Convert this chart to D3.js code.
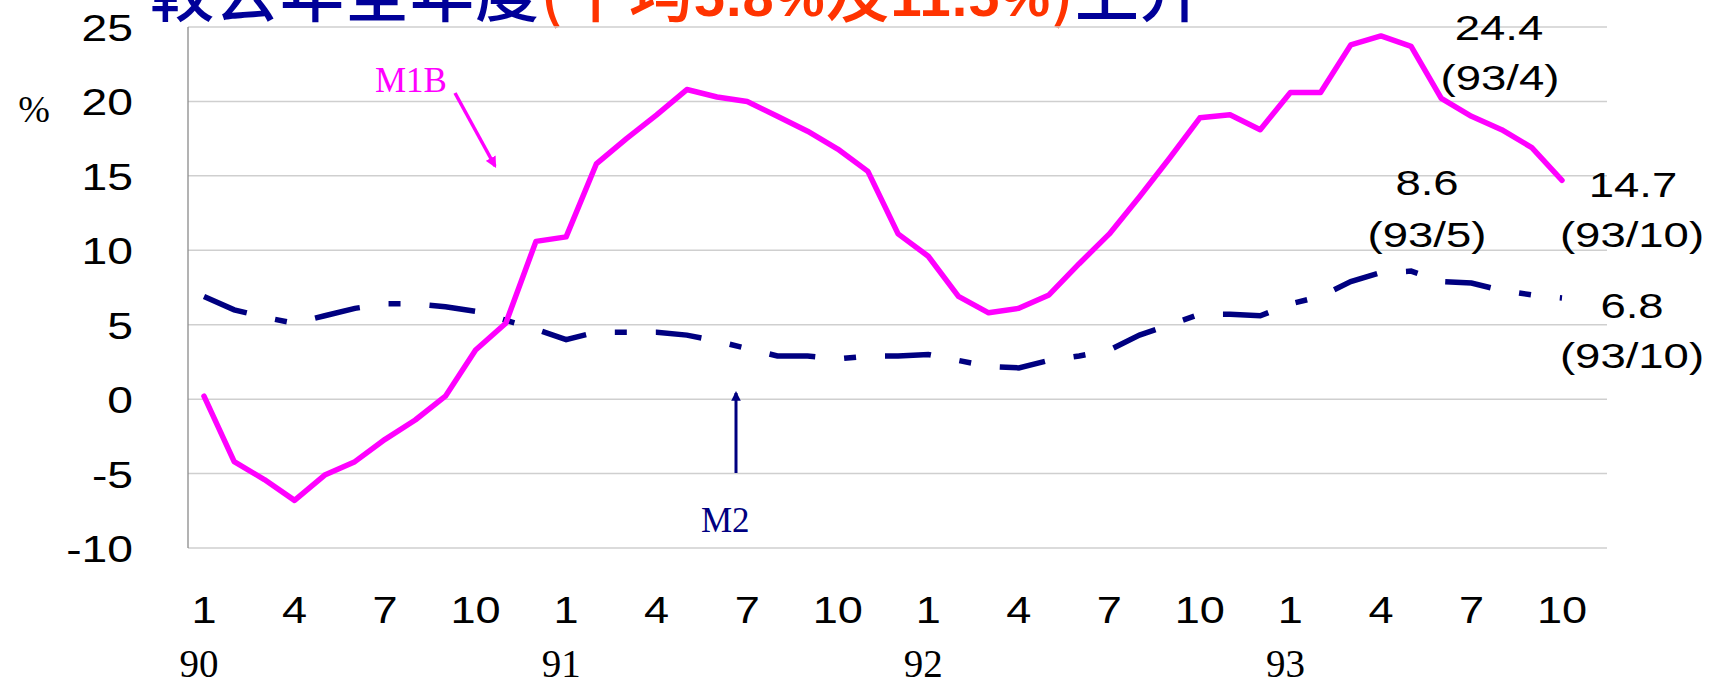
<!DOCTYPE html>
<html>
<head>
<meta charset="utf-8">
<script src="https://cdn.jsdelivr.net/npm/d3@7"></script>
<style>
  body { margin: 0; background: #fff; }
  svg { display: block; }
</style>
</head>
<body>
<svg width="1718" height="680"></svg>
<script>
// months (year/month), 90/1 .. 93/10
var periods = [
  "90/1","90/2","90/3","90/4","90/5","90/6","90/7","90/8","90/9","90/10","90/11","90/12",
  "91/1","91/2","91/3","91/4","91/5","91/6","91/7","91/8","91/9","91/10","91/11","91/12",
  "92/1","92/2","92/3","92/4","92/5","92/6","92/7","92/8","92/9","92/10","92/11","92/12",
  "93/1","93/2","93/3","93/4","93/5","93/6","93/7","93/8","93/9","93/10"
];
// annual growth rates, %
var m1b = [
  0.2, -4.2, -5.4, -6.8, -5.1, -4.2, -2.7, -1.4, 0.2, 3.3, 5.1, 10.6,
  10.9, 15.8, 17.5, 19.1, 20.8, 20.3, 20.0, 19.0, 18.0, 16.8, 15.3, 11.1,
  9.6, 6.9, 5.8, 6.1, 7.0, 9.1, 11.1, 13.6, 16.2, 18.9, 19.1, 18.1,
  20.6, 20.6, 23.8, 24.4, 23.7, 20.2, 19.0, 18.1, 16.9, 14.7
];
var m2 = [
  6.9, 6.0, 5.5, 5.1, 5.6, 6.1, 6.4, 6.4, 6.2, 5.9, 5.3, 4.7,
  4.0, 4.5, 4.5, 4.5, 4.3, 3.9, 3.4, 2.9, 2.9, 2.7, 2.9, 2.9,
  3.0, 2.6, 2.2, 2.1, 2.6, 2.9, 3.3, 4.3, 5.0, 5.7, 5.7, 5.6,
  6.4, 6.9, 7.9, 8.5, 8.6, 7.9, 7.8, 7.3, 7.0, 6.8
];
var yTicks = [25, 20, 15, 10, 5, 0, -5, -10];
var monthTicks = ["1", "4", "7", "10"];
var yearTicks = ["90", "91", "92", "93"];

var svg = d3.select("svg");
var sans = "Arial, 'Liberation Sans', sans-serif";
var serif = "'Times New Roman', 'Liberation Serif', serif";

// scales
var x = d3.scaleLinear().domain([0, periods.length - 1]).range([204, 1562]);
var y = d3.scaleLinear().domain([-10, 25]).range([548, 27]);
var left = 188, right = 1607;

// title (only its lower part is inside the picture)
var title = svg.append("text")
  .attr("x", 150).attr("y", 16)
  .style("font-family", "'Noto Sans CJK TC', sans-serif")
  .style("font-weight", "500")
  .style("font-size", "64px")
  .style("letter-spacing", "1px");
title.append("tspan").attr("fill", "#000099").text("較去年全年度");
title.append("tspan").attr("fill", "#ff3300").text("(平均");
title.append("tspan").attr("fill", "#ff3300").style("font-family", sans).style("font-weight", "bold").style("font-size", "56px").text("5.8%");
title.append("tspan").attr("fill", "#ff3300").text("及");
title.append("tspan").attr("fill", "#ff3300").style("font-family", sans).style("font-weight", "bold").style("font-size", "56px").text("11.5%");
title.append("tspan").attr("fill", "#ff3300").text(")");
title.append("tspan").attr("fill", "#000099").text("上升");

// grid
svg.append("g").selectAll("line")
  .data(yTicks)
  .enter().append("line")
    .attr("x1", left).attr("x2", right)
    .attr("y1", function(d) { return y(d); })
    .attr("y2", function(d) { return y(d); })
    .attr("stroke", "#cfcfcf")
    .attr("stroke-width", 1.5);

// y axis line
svg.append("line")
  .attr("x1", left).attr("x2", left)
  .attr("y1", y(25)).attr("y2", y(-10))
  .attr("stroke", "#8a8a8a")
  .attr("stroke-width", 1.3);

// y tick labels
svg.append("g").selectAll("text")
  .data(yTicks)
  .enter().append("text")
    .attr("transform", function(d) { return "translate(133," + (y(d) + 14) + ") scale(1.25,1)"; })
    .attr("text-anchor", "end")
    .style("font-family", sans)
    .style("font-size", "37px")
    .text(function(d) { return d; });

svg.append("text")
  .attr("x", 34).attr("y", 122)
  .attr("text-anchor", "middle")
  .style("font-family", serif)
  .style("font-size", "38px")
  .text("%");

// x labels: month and year
var monthIdx = [], yearIdx = [];
periods.forEach(function(p, i) {
  var mo = p.split("/")[1];
  if (monthTicks.indexOf(mo) >= 0) monthIdx.push(i);
  if (mo === "1") yearIdx.push(i);
});
svg.append("g").selectAll("text")
  .data(monthIdx)
  .enter().append("text")
    .attr("transform", function(i) { return "translate(" + x(i) + ",623) scale(1.22,1)"; })
    .attr("text-anchor", "middle")
    .style("font-family", sans)
    .style("font-size", "37px")
    .text(function(i) { return periods[i].split("/")[1]; });

svg.append("g").selectAll("text")
  .data(yearIdx)
  .enter().append("text")
    .attr("x", function(i) { return x(i) - 5; })
    .attr("y", 677)
    .attr("text-anchor", "middle")
    .style("font-family", serif)
    .style("font-size", "39px")
    .text(function(i, k) { return yearTicks[k]; });

// lines
var line = d3.line()
  .x(function(d, i) { return x(i); })
  .y(function(d) { return y(d); });

svg.append("path")
  .datum(m2)
  .attr("fill", "none")
  .attr("stroke", "#000080")
  .attr("stroke-width", 5.5)
  .attr("stroke-dasharray", "46,29,12,29")
  .attr("d", line);

svg.append("path")
  .datum(m1b)
  .attr("fill", "none")
  .attr("stroke", "#ff00ff")
  .attr("stroke-width", 5.5)
  .attr("stroke-linejoin", "round")
  .attr("stroke-linecap", "round")
  .attr("d", line);

// arrow markers
var defs = svg.append("defs");
[["pinkHead", "#ff00ff"], ["navyHead", "#000080"]].forEach(function(m) {
  defs.append("marker")
    .attr("id", m[0])
    .attr("viewBox", "0 0 10 10")
    .attr("refX", 8).attr("refY", 5)
    .attr("markerWidth", 3.2).attr("markerHeight", 3.2)
    .attr("orient", "auto")
    .append("path")
      .attr("d", "M0,0 L10,5 L0,10 z")
      .attr("fill", m[1]);
});

// series notes
svg.append("text")
  .attr("x", 375).attr("y", 92)
  .attr("fill", "#ff00ff")
  .style("font-family", serif)
  .style("font-size", "35px")
  .text("M1B");
svg.append("line")
  .attr("x1", 455).attr("y1", 93)
  .attr("x2", 495).attr("y2", 166)
  .attr("stroke", "#ff00ff")
  .attr("stroke-width", 3.5)
  .attr("marker-end", "url(#pinkHead)");

svg.append("text")
  .attr("x", 701).attr("y", 532)
  .attr("fill", "#000080")
  .style("font-family", serif)
  .style("font-size", "35px")
  .text("M2");
svg.append("line")
  .attr("x1", 736).attr("y1", 473)
  .attr("x2", 736).attr("y2", 393)
  .attr("stroke", "#000080")
  .attr("stroke-width", 3)
  .attr("marker-end", "url(#navyHead)");

// value notes
var notes = [
  ["24.4", 1499, 40], ["(93/4)", 1500, 90],
  ["8.6", 1427, 195], ["(93/5)", 1427, 247],
  ["14.7", 1633, 197], ["(93/10)", 1632, 247],
  ["6.8", 1632, 318], ["(93/10)", 1632, 368]
];
svg.append("g").selectAll("text")
  .data(notes)
  .enter().append("text")
    .attr("transform", function(d) { return "translate(" + d[1] + "," + d[2] + ") scale(1.3,1)"; })
    .attr("text-anchor", "middle")
    .style("font-family", sans)
    .style("font-size", "35px")
    .text(function(d) { return d[0]; });
</script>
</body>
</html>
